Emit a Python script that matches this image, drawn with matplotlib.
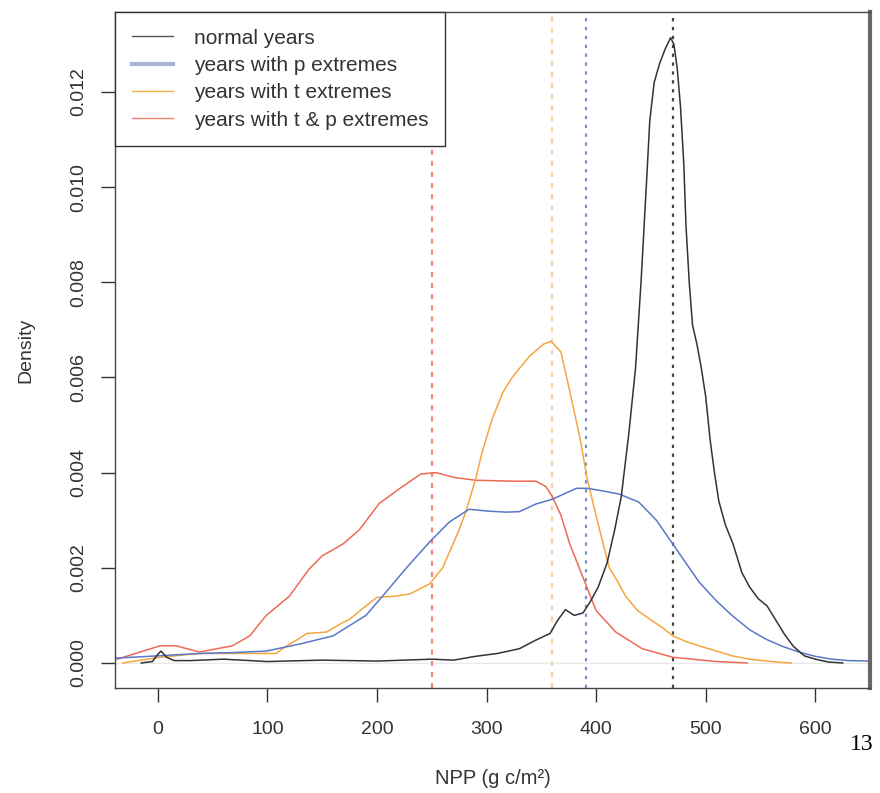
import matplotlib
matplotlib.use("Agg")
import matplotlib.pyplot as plt
from matplotlib.lines import Line2D

plt.rcParams['font.family'] = ['Liberation Sans', 'DejaVu Sans']

# density curves
normal_x = [-15, -5, 0, 3, 8, 15, 30, 60, 100, 150, 200, 250, 270, 290, 310, 330, 345,
            358, 365, 372, 380, 388, 395, 402, 410, 417, 423, 430, 436, 441, 446, 449,
            453, 458, 463, 468, 471, 474, 477, 480, 482, 485, 488, 492, 496, 500, 504,
            508, 512, 518, 525, 533, 540, 548, 556, 564, 572, 580, 590, 600, 612, 625]
normal_y = [0.0, 0.00003, 0.00018, 0.00025, 0.00012, 0.00005, 0.00005, 0.00008, 0.00003,
            0.00006, 0.00004, 0.00008, 0.00006, 0.00014, 0.0002, 0.0003, 0.00048,
            0.00062, 0.0009, 0.00112, 0.001, 0.00105, 0.0013, 0.0016, 0.0021, 0.0028,
            0.0035, 0.00485, 0.0062, 0.008, 0.0101, 0.0114, 0.0122, 0.0126, 0.0129,
            0.01314, 0.013, 0.0125, 0.0117, 0.0105, 0.0092, 0.008, 0.0071, 0.0067,
            0.0062, 0.0056, 0.0047, 0.004, 0.0034, 0.0029, 0.0025, 0.0019, 0.0016,
            0.00135, 0.0012, 0.0009, 0.0006, 0.00035, 0.00015, 0.00008, 0.00002, 0.0]

p_x = [-40, 0, 38, 70, 99, 130, 160, 190, 205, 227, 248, 266, 284, 302, 318, 330, 345,
       360, 382, 392, 405, 421, 439, 455, 470, 494, 510, 524, 540, 555, 570, 585, 600,
       615, 630, 650]
p_y = [0.0001, 0.00015, 0.0002, 0.00022, 0.00025, 0.0004, 0.00057, 0.001, 0.0014, 0.002,
       0.00254, 0.00296, 0.00323, 0.00319, 0.00317, 0.00318, 0.00334, 0.00344, 0.00367,
       0.00367, 0.00362, 0.00355, 0.00338, 0.003, 0.0025, 0.0017, 0.0013, 0.001, 0.0007,
       0.0005, 0.00035, 0.00023, 0.00014, 0.00008, 0.00005, 0.00004]

t_x = [-32, 2, 38, 80, 108, 117, 128, 136, 154, 165, 175, 190, 200, 215, 230, 248, 260,
       275, 281, 290, 296, 305, 315, 324, 339, 352, 359, 368, 375, 385, 392, 400, 412,
       420, 427, 438, 449, 460, 470, 482, 494, 510, 524, 540, 556, 570, 578]
t_y = [0.0, 0.00012, 0.0002, 0.0002, 0.0002, 0.00035, 0.0005, 0.00062, 0.00065, 0.0008,
       0.00092, 0.0012, 0.00138, 0.0014, 0.00145, 0.00166, 0.002, 0.0028, 0.00317,
       0.00386, 0.00443, 0.00512, 0.00569, 0.00602, 0.00644, 0.0067, 0.00676, 0.00653,
       0.00581, 0.00476, 0.00386, 0.00309, 0.002, 0.0017, 0.0014, 0.0011, 0.00092,
       0.00075, 0.00057, 0.00045, 0.00036, 0.00025, 0.00015, 0.00008, 0.00004, 0.00001, 0.0]

tp_x = [-37, 2, 17, 38, 68, 84, 99, 120, 138, 150, 169, 184, 202, 221, 240, 254, 270,
        290, 324, 345, 354, 360, 368, 376, 388, 400, 418, 442, 470, 510, 538]
tp_y = [0.00008, 0.00036, 0.00036, 0.00023, 0.00036, 0.00057, 0.001, 0.0014, 0.00197,
        0.00225, 0.0025, 0.0028, 0.00335, 0.00367, 0.00397, 0.004, 0.0039, 0.00384,
        0.00382, 0.00382, 0.00371, 0.0035, 0.0031, 0.0025, 0.0018, 0.0011, 0.00065,
        0.0003, 0.00012, 0.00003, 0.0]

# medians (dotted vertical lines)
med_normal = 470
med_p = 391
med_t = 360
med_tp = 250

fig = plt.figure(figsize=(8.8, 7.93), dpi=100)
ax = fig.add_axes([0.1307, 0.1324, 0.858, 0.8525])

ax.axhline(0, color='#e8e8e8', lw=1, zorder=0)

ax.axvline(med_tp, color='#f08878', lw=1.6, ls=(0, (2.2, 2.8)))
ax.axvline(med_t, color='#f7cfa8', lw=1.6, ls=(0, (2.2, 2.8)))
ax.axvline(med_p, color='#7f8fd0', lw=1.6, ls=(0, (1.5, 2.5)))
ax.axvline(med_normal, color='#444444', lw=1.6, ls=(0, (1.5, 2.5)))

ax.plot(tp_x, tp_y, color='#ee6a55', lw=1.1)
ax.plot(t_x, t_y, color='#f5a640', lw=1.1)
ax.plot(p_x, p_y, color='#5a78c8', lw=1.1)
ax.plot(normal_x, normal_y, color='#333333', lw=1.1)

ax.set_xlim(-39, 650)
ax.set_ylim(-0.000526, 0.01368)
ax.set_xticks([0, 100, 200, 300, 400, 500, 600])
ax.set_yticks([0, 0.002, 0.004, 0.006, 0.008, 0.010, 0.012])
ax.set_yticklabels(['0.000', '0.002', '0.004', '0.006', '0.008', '0.010', '0.012'],
                   rotation=90, va='center')
ax.tick_params(axis='both', length=10, width=1, color='#333333', labelsize=14,
               labelcolor='#333333')
ax.tick_params(axis='x', pad=14)
ax.tick_params(axis='y', pad=10)
for s in ax.spines.values():
    s.set_color('#444444')
    s.set_linewidth(1)
ax.spines['right'].set_linewidth(3)
ax.spines['right'].set_color('#666666')

ax.set_xlabel('NPP (g c/m²)', fontsize=14.5, color='#333333', labelpad=22)
ax.set_ylabel('Density', fontsize=14, color='#333333', labelpad=26)

handles = [Line2D([], [], color='#555555', lw=1),
           Line2D([], [], color='#aab4d8', lw=3),
           Line2D([], [], color='#f5b040', lw=1),
           Line2D([], [], color='#f08070', lw=1)]
labels = ['normal years', 'years with p extremes', 'years with t extremes',
          'years with t & p extremes']
leg = ax.legend(handles, labels, loc='upper left', bbox_to_anchor=(0, 1),
                borderaxespad=0, fancybox=False, framealpha=1, edgecolor='#333333',
                fontsize=15, handlelength=2.0, handletextpad=1.0, labelspacing=0.4,
                borderpad=0.8)
leg.get_frame().set_linewidth(1)
for t in leg.get_texts():
    t.set_color('#333333')

fig.text(862 / 880, 1 - 745 / 793, '13', fontsize=17, family='Liberation Serif',
         ha='center', va='center', color='black')

fig.savefig('out.png', dpi=100)
